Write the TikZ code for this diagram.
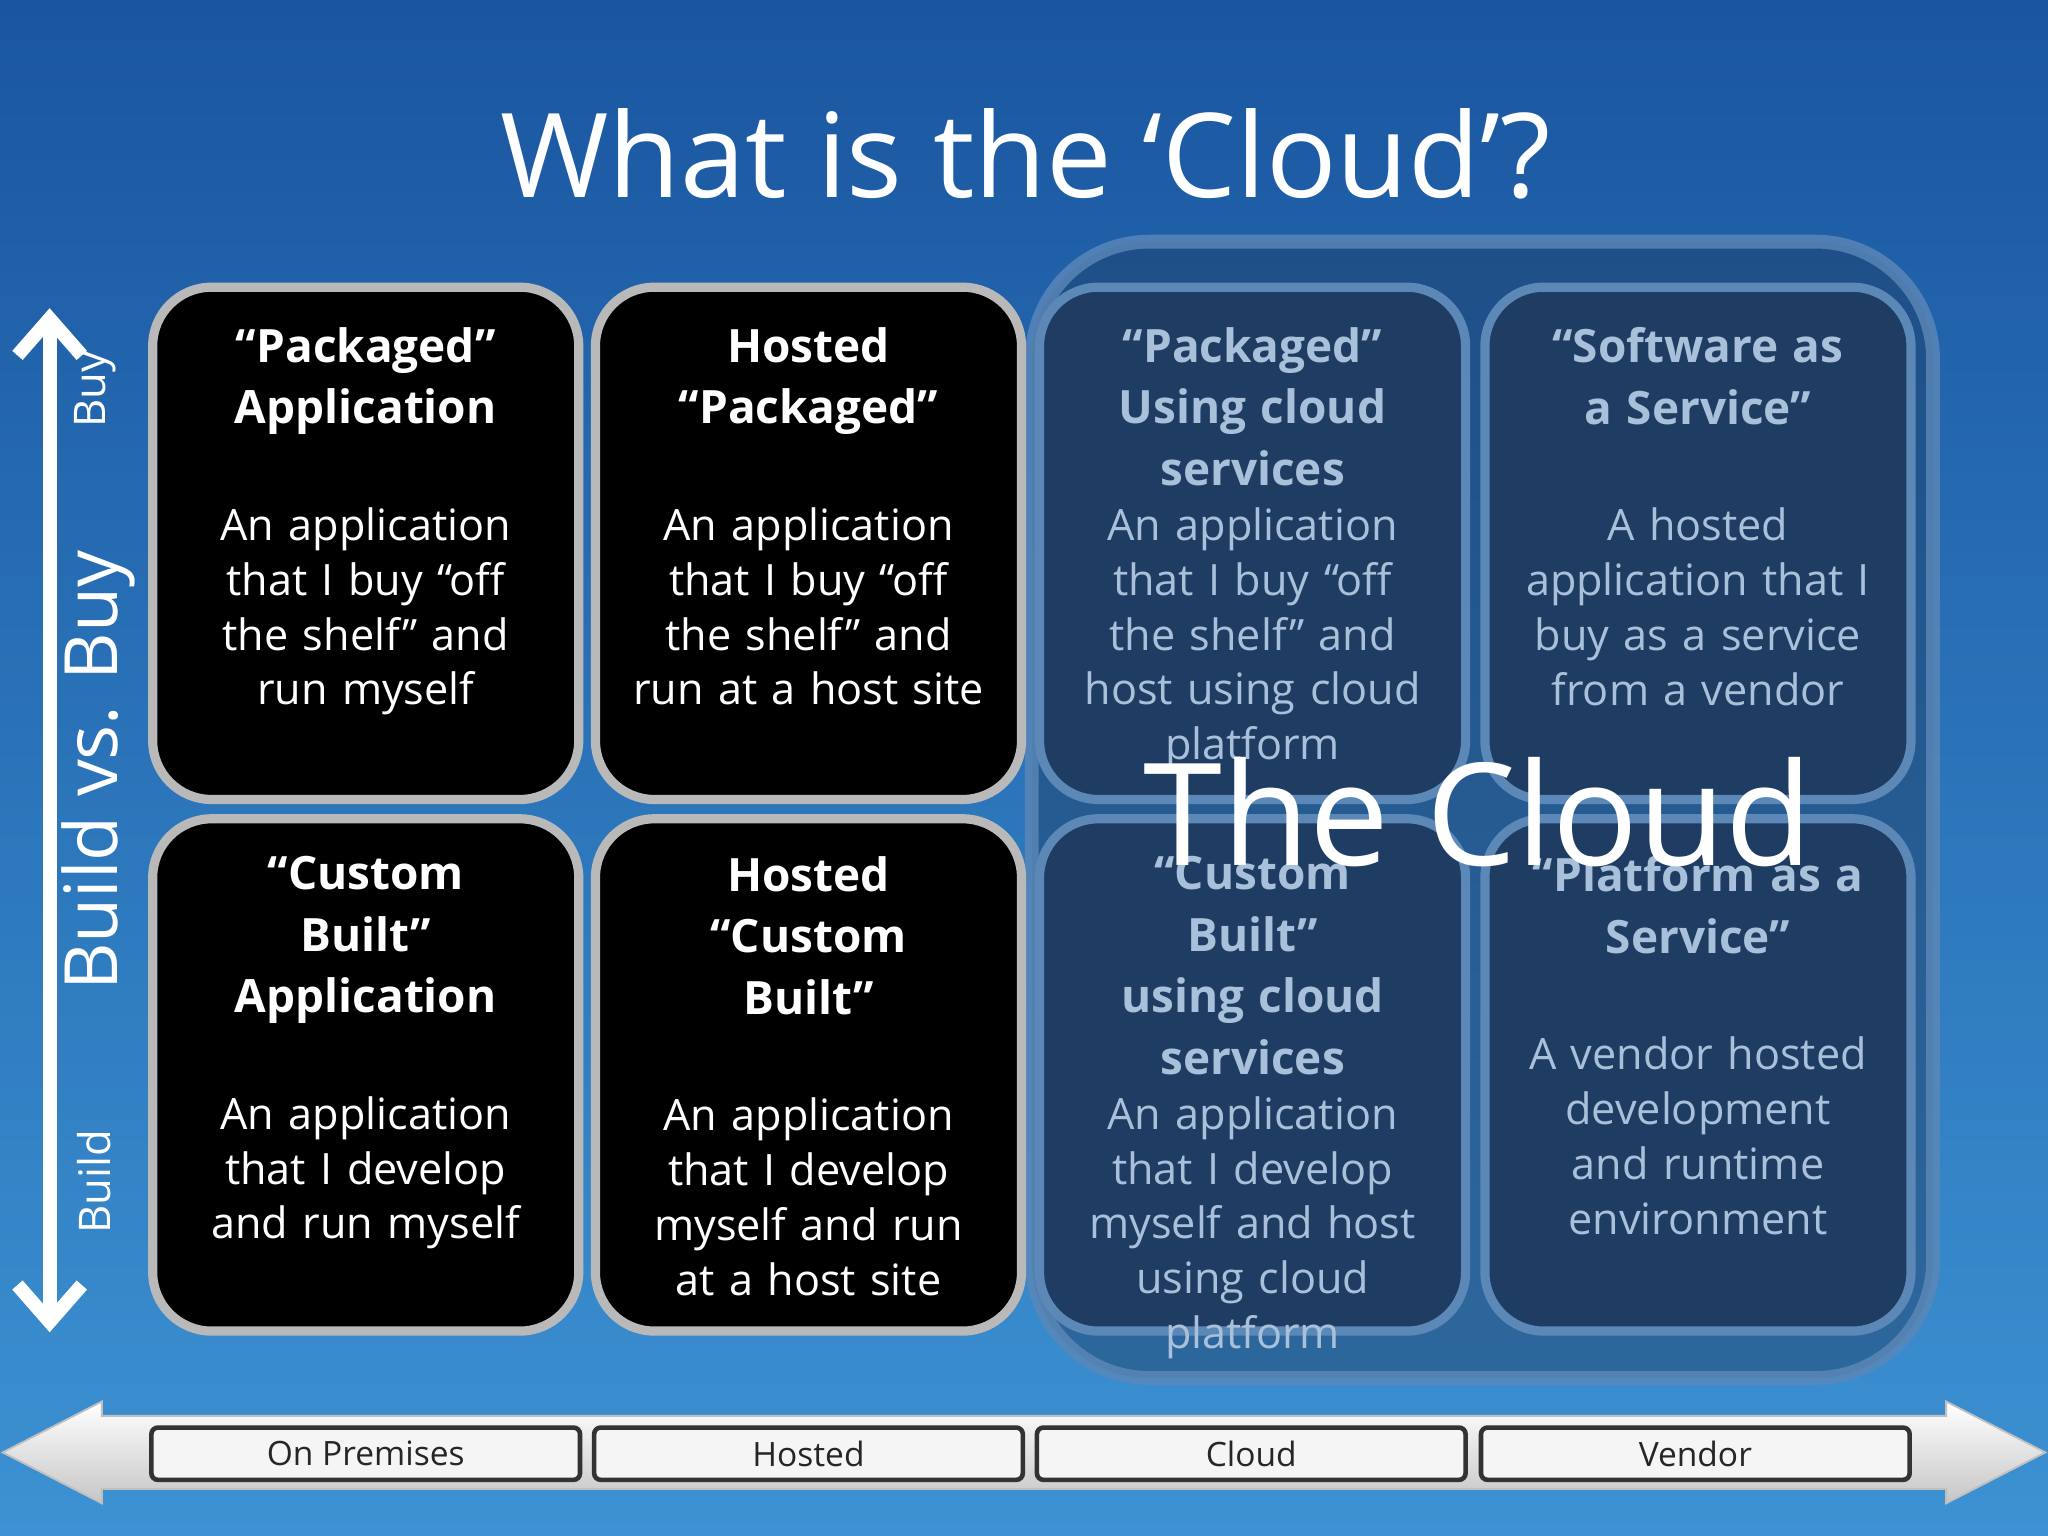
\documentclass[tikz,border=0pt]{standalone}
\usepackage{fontspec}
\setmainfont{Open Sans}
\usetikzlibrary{shadows,arrows.meta}
\definecolor{bgtop}{HTML}{1A56A0}
\definecolor{bgbot}{HTML}{3C92D2}
\definecolor{cloudtxt}{HTML}{A9C0DA}
\definecolor{cloudbox}{HTML}{1F3C62}
\definecolor{cloudedge}{HTML}{5C88B8}
\newcommand{\hd}[1]{{\fontsize{10pt}{13.4pt}\selectfont\bfseries #1\par}}
\tikzset{
 x=0.01cm,y=-0.01cm,
 blackbox/.style={draw=gray!55,line width=2pt,fill=black,rounded corners=0.45cm,minimum width=3.26cm,minimum height=3.92cm,inner sep=0pt},
 cbox/.style={draw=cloudedge,line width=2pt,fill=cloudbox,rounded corners=0.45cm,minimum width=3.26cm,minimum height=3.92cm,inner sep=0pt},
 txt/.style={text width=3.3cm,align=center,font=\fontsize{9.4pt}{11.95pt}\selectfont,text=white,anchor=north,inner sep=0pt},
 ctxt/.style={txt,text=cloudtxt},
 lab/.style={draw=black!80,line width=1pt,fill=gray!8,rounded corners=0.05cm,minimum width=3.28cm,minimum height=0.4cm,inner sep=0pt,font=\fontsize{7.3pt}{9pt}\selectfont,text=black!85},
}
\begin{document}
\begin{tikzpicture}
\shade[top color=bgtop,bottom color=bgbot] (0,0) rectangle (1568,1176);
\useasboundingbox (0,0) rectangle (1568,1176);
\node[font=\fontsize{25.5pt}{30pt}\selectfont,text=white] (title) at (785,118) {What is the ‘Cloud’?};
% cloud region
\fill[cloudbox,fill opacity=0.45,draw=cloudedge,draw opacity=0.8,line width=3pt,rounded corners=0.9cm] (790,185) rectangle (1480,1055);
% boxes
\node[blackbox] (b1) at (280,416) {};
\node[blackbox] (b2) at (619,416) {};
\node[cbox] (b3) at (959,416) {};
\node[cbox] (b4) at (1300,416) {};
\node[blackbox] (b5) at (280,823) {};
\node[blackbox] (b6) at (619,823) {};
\node[cbox] (b7) at (959,823) {};
\node[cbox] (b8) at (1300,823) {};
\node[txt] (t1) at (280,250) {\hd{“Packaged”\\Application\\~}An application\\that I buy “off\\the shelf” and\\run myself};
\node[txt] (t2) at (619,250) {\hd{Hosted\\“Packaged”\\~}An application\\that I buy “off\\the shelf” and\\run at a host site};
\node[ctxt] (t3) at (959,250) {\hd{“Packaged”\\Using cloud\\services}An application\\that I buy “off\\the shelf” and\\host using cloud\\platform};
\node[ctxt] (t4) at (1300,250) {\hd{“Software as\\a Service”\\~}A hosted\\application that I\\buy as a service\\from a vendor};
\node[txt] (t5) at (280,655) {\hd{“Custom\\Built”\\Application\\~}An application\\that I develop\\and run myself};
\node[txt] (t6) at (619,655) {\hd{Hosted\\“Custom\\Built”\\~}An application\\that I develop\\myself and run\\at a host site};
\node[ctxt] (t7) at (959,655) {\hd{“Custom\\Built”\\using cloud\\services}An application\\that I develop\\myself and host\\using cloud\\platform};
\node[ctxt] (t8) at (1300,655) {\hd{“Platform as a\\Service”\\~}A vendor hosted\\development\\and runtime\\environment};
\node[font=\fontsize{31pt}{34pt}\selectfont,text=white] (tc) at (1132,622) {The Cloud};
% left arrow
\coordinate (ltop) at (38,236);
\coordinate (lbot) at (38,1020);
\draw[white,line width=3pt,{Straight Barb[length=8pt,width=14pt]}-{Straight Barb[length=8pt,width=14pt]}] (ltop) -- (lbot);
\node[rotate=90,text=white,font=\fontsize{9.5pt}{12pt}\selectfont] (buy) at (73,298) {Buy};
\node[rotate=90,text=white,font=\fontsize{16pt}{20pt}\selectfont] (bvb) at (75,590) {Build vs. Buy};
\node[rotate=90,text=white,font=\fontsize{9.5pt}{12pt}\selectfont] (bld) at (72,905) {Build};
% bottom arrow
\shade[top color=white,bottom color=gray!45,draw=gray!50] (2,1112) -- (78,1073) -- (78,1084) -- (1490,1084) -- (1490,1073) -- (1566,1112) -- (1490,1151) -- (1490,1140) -- (78,1140) -- (78,1151) -- cycle;
\node[lab] (l1) at (280,1113) {On Premises};
\node[lab] (l2) at (619,1113) {Hosted};
\node[lab] (l3) at (958,1113) {Cloud};
\node[lab] (l4) at (1298,1113) {Vendor};
\end{tikzpicture}
\end{document}
